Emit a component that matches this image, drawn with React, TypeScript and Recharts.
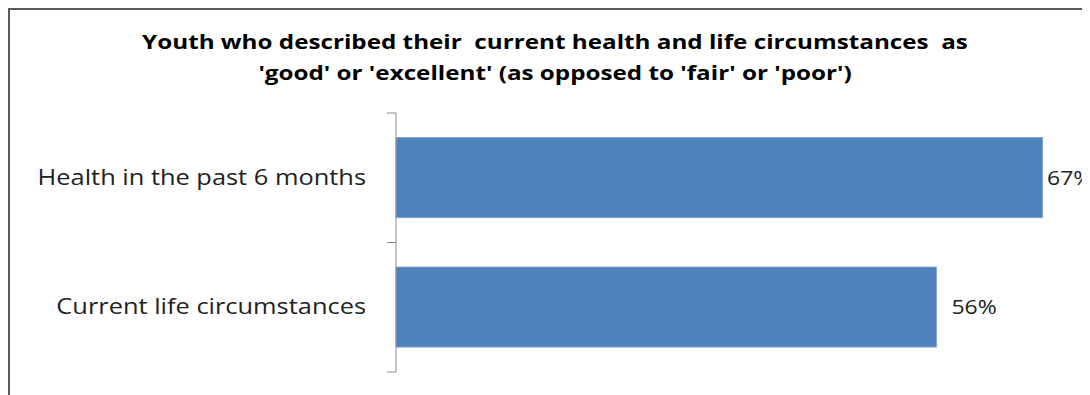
import { BarChart, Bar, XAxis, YAxis, LabelList } from 'recharts'

const categories = ['Health in the past 6 months', 'Current life circumstances']
const shares = [67, 56]
const titleLines = [
  "Youth who described their  current health and life circumstances  as",
  "'good' or 'excellent' (as opposed to 'fair' or 'poor')",
]

const rows = categories.map((name, i) => ({ name, value: shares[i] }))

const CHART_H = 367
const MARGIN = { top: 103, right: 0, bottom: 5, left: 0 }
const BAND_HALF = (CHART_H - MARGIN.top - MARGIN.bottom) / categories.length / 2
const TICK_SIZE = 9
const TICK_MARGIN = 21
const LABEL_LIMIT = 1037
const FONT = "'Open Sans', sans-serif"

function CategoryTick(props: any) {
  const { x, y, payload } = props
  const axisX = x + TICK_SIZE + TICK_MARGIN
  return (
    <g>
      <line x1={axisX - TICK_SIZE} x2={axisX} y1={y - BAND_HALF} y2={y - BAND_HALF} stroke="#8c8c8c" />
      <line x1={axisX - TICK_SIZE} x2={axisX} y1={y + BAND_HALF} y2={y + BAND_HALF} stroke="#8c8c8c" />
      <text
        transform={`translate(${x},${y}) scale(1.21,1)`}
        textAnchor="end"
        dy={7}
        fontSize={21}
        fill="#222"
        fontFamily={FONT}
      >
        {payload.value}
      </text>
    </g>
  )
}

function ValueLabel(props: any) {
  const { x, y, width, height, value } = props
  const lx = Math.min(x + width + 15, LABEL_LIMIT)
  return (
    <text
      transform={`translate(${lx},${y + height / 2}) scale(1.15,1)`}
      dy={7}
      fontSize={20}
      fill="#222"
      fontFamily={FONT}
    >
      {value}%
    </text>
  )
}

export default function App() {
  return (
    <div style={{ width: 1082, height: 387, overflow: 'hidden', position: 'relative' }}>
      <div
        style={{
          position: 'absolute',
          left: 0,
          top: 0,
          width: 1400,
          height: 500,
          border: '2px solid #5a5a5a',
          background: 'white',
        }}
      >
        <div
          style={{
            position: 'absolute',
            left: 0,
            top: 17,
            width: 1090,
            textAlign: 'center',
            fontFamily: FONT,
            fontWeight: 700,
            fontSize: 19,
            lineHeight: '31px',
            color: '#000',
            whiteSpace: 'pre',
            transform: 'scaleX(1.275)',
            transformOrigin: '545px 0',
          }}
        >
          {titleLines.map((t) => (
            <div key={t}>{t}</div>
          ))}
        </div>
        <div style={{ position: 'absolute', left: 0, top: 0 }}>
          <BarChart
            width={1351}
            height={CHART_H}
            data={rows}
            layout="vertical"
            margin={MARGIN}
            barCategoryGap="19%"
          >
            <XAxis type="number" domain={[0, 100]} hide />
            <YAxis
              type="category"
              dataKey="name"
              width={386}
              tickSize={TICK_SIZE}
              tickMargin={TICK_MARGIN}
              axisLine={{ stroke: '#8c8c8c' }}
              tickLine={false}
              tick={<CategoryTick />}
              interval={0}
            />
            <Bar dataKey="value" fill="#4f81bd" stroke="#7ea3cf" strokeWidth={1} isAnimationActive={false}>
              <LabelList dataKey="value" content={ValueLabel} />
            </Bar>
          </BarChart>
        </div>
      </div>
    </div>
  )
}
